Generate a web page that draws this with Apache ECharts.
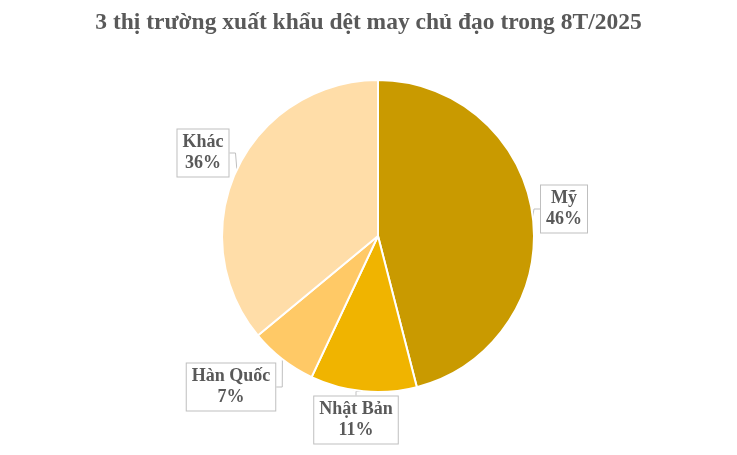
<!DOCTYPE html>
<html>
<head>
<meta charset="utf-8">
<script src="https://cdn.jsdelivr.net/npm/echarts@6/dist/echarts.min.js"></script>
<style>
html,body{margin:0;padding:0;background:#fff;}
#chart{width:737px;height:455px;}
</style>
</head>
<body>
<div id="chart"></div>
<script>
var categories = ['Mỹ', 'Nhật Bản', 'Hàn Quốc', 'Khác'];
var shares = [46, 11, 7, 36];
var colors = ['#C99A00', '#F0B400', '#FFC966', '#FFDDA8'];
var labelPos = [[564, 209], [356, 420], [231, 387], [203, 153]];

var chart = echarts.init(document.getElementById('chart'), null, {renderer: 'canvas'});
var data = categories.map(function (c, i) {
  return {name: c, value: shares[i], itemStyle: {color: colors[i]}};
});
chart.setOption({
  animation: false,
  title: {
    text: '3 thị trường xuất khẩu dệt may chủ đạo trong 8T/2025',
    left: 'center', top: 6,
    textStyle: {fontFamily: 'Liberation Serif', fontWeight: 'bold', fontSize: 23.5, color: '#595959'}
  },
  series: [{
    type: 'pie',
    center: [378, 236],
    radius: [0, 156],
    startAngle: 90,
    clockwise: true,
    data: data,
    itemStyle: {borderColor: '#ffffff', borderWidth: 2},
    label: {
      show: true,
      position: 'outside',
      formatter: function (p) { return p.name + '\n' + p.value + '%'; },
      fontFamily: 'Liberation Serif',
      fontWeight: 'bold',
      fontSize: 18,
      lineHeight: 21,
      color: '#595959',
      backgroundColor: '#ffffff',
      borderColor: '#bfbfbf',
      borderWidth: 1,
      padding: [3, 5, 2, 5],
      align: 'center'
    },
    labelLine: {show: true, length: 8, length2: 6, lineStyle: {color: '#bfbfbf', width: 1}},
    labelLayout: function (params) {
      var p = labelPos[params.dataIndex];
      return {x: p[0], y: p[1], align: 'center', verticalAlign: 'middle'};
    }
  }]
});
</script>
</body>
</html>
